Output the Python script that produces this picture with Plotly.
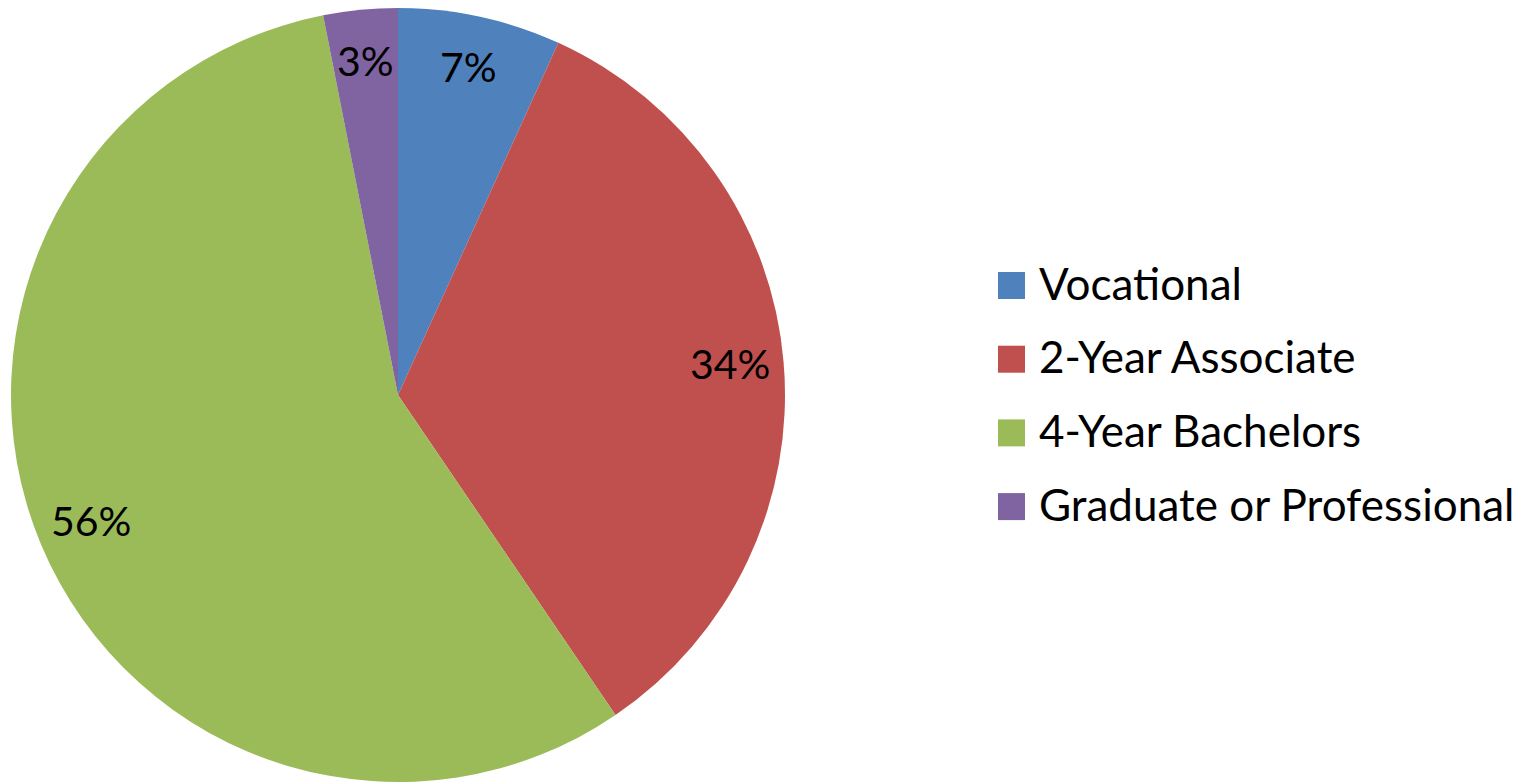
import math
import plotly.graph_objects as go

# Highest degree planned (share of respondents)
categories = ["Vocational", "2-Year Associate", "4-Year Bachelors", "Graduate or Professional"]
shares = [6.8, 33.7, 56.4, 3.1]
colors = ["#4F81BD", "#C0504D", "#9BBB59", "#8064A2"]

# the page body adds an 8px margin, so the figure is 8px smaller
# and everything is positioned 8px up/left of the target image
OFF = 8
W, H = 1532 - OFF, 782 - OFF
FONT = "Lato"

# pie placement (pixels, figure coords)
cx, cy, R = 398 - OFF, 395 - OFF, 387

fig = go.Figure(
    go.Pie(
        labels=categories,
        values=shares,
        sort=False,
        direction="clockwise",
        rotation=0,
        marker=dict(colors=colors, line=dict(width=0)),
        textinfo="none",
        hoverinfo="label+percent",
        showlegend=False,
        domain=dict(x=[(cx - R) / W, (cx + R) / W],
                    y=[max(0, (H - cy - R) / H), min(1, (H - cy + R) / H)]),
    )
)

# percent labels, placed at the middle angle of each slice
total = sum(shares)
annotations = []
acc = 0
for v in shares:
    mid = (acc + v / 2) / total * 2 * math.pi
    acc += v
    r = 0.86 * R
    px = cx + r * math.sin(mid)
    py = cy - r * math.cos(mid) - 3  # small nudge for the text box
    annotations.append(dict(
        x=px / W, y=1 - py / H, xref="paper", yref="paper",
        text=f"{round(v / total * 100)}%", showarrow=False,
        xanchor="center", yanchor="middle",
        font=dict(family=FONT, size=41, color="black"),
    ))

# legend drawn by hand so the swatches match the original size
shapes = []
leg_x, leg_y0, leg_dy, sw = 998 - OFF, 285.5 - OFF, 73.7, 27
for i, (name, col) in enumerate(zip(categories, colors)):
    yc = leg_y0 + i * leg_dy
    shapes.append(dict(
        type="rect", xref="paper", yref="paper",
        x0=leg_x / W, x1=(leg_x + sw) / W,
        y0=1 - (yc + sw / 2) / H, y1=1 - (yc - sw / 2) / H,
        fillcolor=col, line=dict(width=0),
    ))
    annotations.append(dict(
        x=(1037 - OFF) / W, y=1 - (yc - 3) / H, xref="paper", yref="paper",
        text=name, showarrow=False, xanchor="left", yanchor="middle",
        font=dict(family=FONT, size=44, color="black"),
    ))

fig.update_layout(
    width=W,
    height=H,
    margin=dict(l=0, r=0, t=0, b=0),
    paper_bgcolor="white",
    plot_bgcolor="white",
    annotations=annotations,
    shapes=shapes,
)

fig.write_html("out.html")
